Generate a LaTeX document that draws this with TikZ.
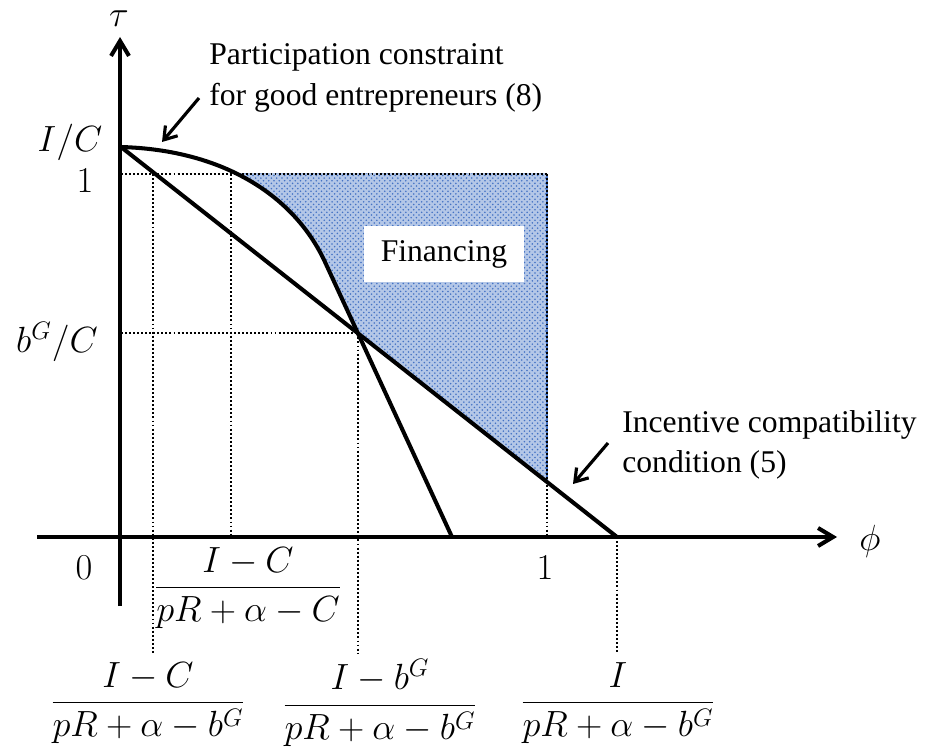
\documentclass[tikz,border=0pt]{standalone}
\usepackage[no-math]{fontspec}
\setmainfont{Liberation Serif}
\usepackage{amsmath}
\usepackage{tikz}
\usetikzlibrary{arrows.meta,patterns}
\definecolor{finblue}{RGB}{68,114,196}
\tikzset{
  axis-line/.style={line width=2.3pt, -{Straight Barb[length=3mm,width=3.6mm]}},
  curve-line/.style={line width=2.3pt, line join=round},
  guide-line/.style={line width=1.1pt, dash pattern=on 1.1pt off 1.2pt},
  note-arrow/.style={line width=1.8pt, -{Straight Barb[length=2.4mm,width=3.2mm]}},
  note-text/.style={font=\fontsize{18}{23}\selectfont, align=left, anchor=west, inner sep=0pt},
  axis-label/.style={font=\fontsize{21}{25}\selectfont, inner sep=0pt},
  frac-label/.style={font=\fontsize{20}{24}\selectfont, inner sep=0pt}
}

\begin{document}
\begin{tikzpicture}[x=0.02cm, y=-0.02cm]
  \useasboundingbox (0,0) rectangle (927,750);

  % Key points of the two constraints
  \coordinate (icStart) at (121,147);
  \coordinate (icEnd) at (617,537);
  \coordinate (pcBend) at (325,262);
  \coordinate (pcEnd) at (452,537);
  \coordinate (cross) at (358,333.4);
  \coordinate (finCorner) at (547,482);

  % Financing region (shaded)
  \begin{scope}
    \clip (121,174) rectangle (547,537);
    \fill[finblue!40]
      (icStart) .. controls (225,150) and (295,197) .. (pcBend) -- (cross)
      -- (finCorner) -- (547,147) -- cycle;
    \fill[pattern=crosshatch dots, pattern color=finblue]
      (icStart) .. controls (225,150) and (295,197) .. (pcBend) -- (cross)
      -- (finCorner) -- (547,147) -- cycle;
  \end{scope}
  \draw[finblue, line width=0.9pt] (547,174) -- (finCorner);
  \node[fill=white, minimum width=3.22cm, minimum height=1.14cm, inner sep=0pt,
    font=\fontsize{18}{22}\selectfont] (finLabel) at (444,254) {Financing};

  % Dotted guides
  \draw[guide-line] (121,174) -- (547,174);
  \draw[guide-line] (121,333.4) -- (cross);
  \draw[guide-line] (153,174) -- (153,654);
  \draw[guide-line] (231,174) -- (231,537);
  \draw[guide-line] (cross) -- (358,654);
  \draw[guide-line] (547,174) -- (547,537);
  \draw[guide-line] (icEnd) -- (617,652);

  % Constraints
  \draw[curve-line] (icStart) -- (icEnd);
  \draw[curve-line] (icStart) .. controls (225,150) and (295,197) .. (pcBend) -- (pcEnd);

  % Axes
  \draw[axis-line] (120,606) -- (120,37);
  \draw[axis-line] (37,537) -- (837,537);
  \node[axis-label] (tauLabel) at (119,19) {$\tau$};
  \node[axis-label] (phiLabel) at (870,541) {$\phi$};

  % Axis values
  \node[axis-label] (icLabel) at (70,142) {$I/C$};
  \node[axis-label] (oneY) at (85,181) {$1$};
  \node[axis-label] (bgLabel) at (57,342) {$b^G/C$};
  \node[axis-label] (zeroLabel) at (84,568) {$0$};
  \node[axis-label] (oneX) at (545,568) {$1$};
  \node[frac-label] (fracTop) at (248,588) {$\dfrac{I-C}{pR+\alpha-C}$};
  \node[frac-label] (fracLeft) at (148,703) {$\dfrac{I-C}{pR+\alpha-b^G}$};
  \node[frac-label] (fracMid) at (380,703) {$\dfrac{I-b^G}{pR+\alpha-b^G}$};
  \node[frac-label] (fracRight) at (618,703) {$\dfrac{I}{pR+\alpha-b^G}$};

  % Annotations
  \node[note-text] (pcText) at (209,78) {Participation constraint\\for good entrepreneurs (8)};
  \coordinate (pcTail) at (199,98);
  \coordinate (pcTip) at (162,142);
  \draw[note-arrow] (pcTail) -- (pcTip);
  \node[note-text] (icText) at (622,445) {Incentive compatibility\\condition (5)};
  \coordinate (icTail) at (608,443);
  \coordinate (icTip) at (573,484);
  \draw[note-arrow] (icTail) -- (icTip);
\end{tikzpicture}
\end{document}
